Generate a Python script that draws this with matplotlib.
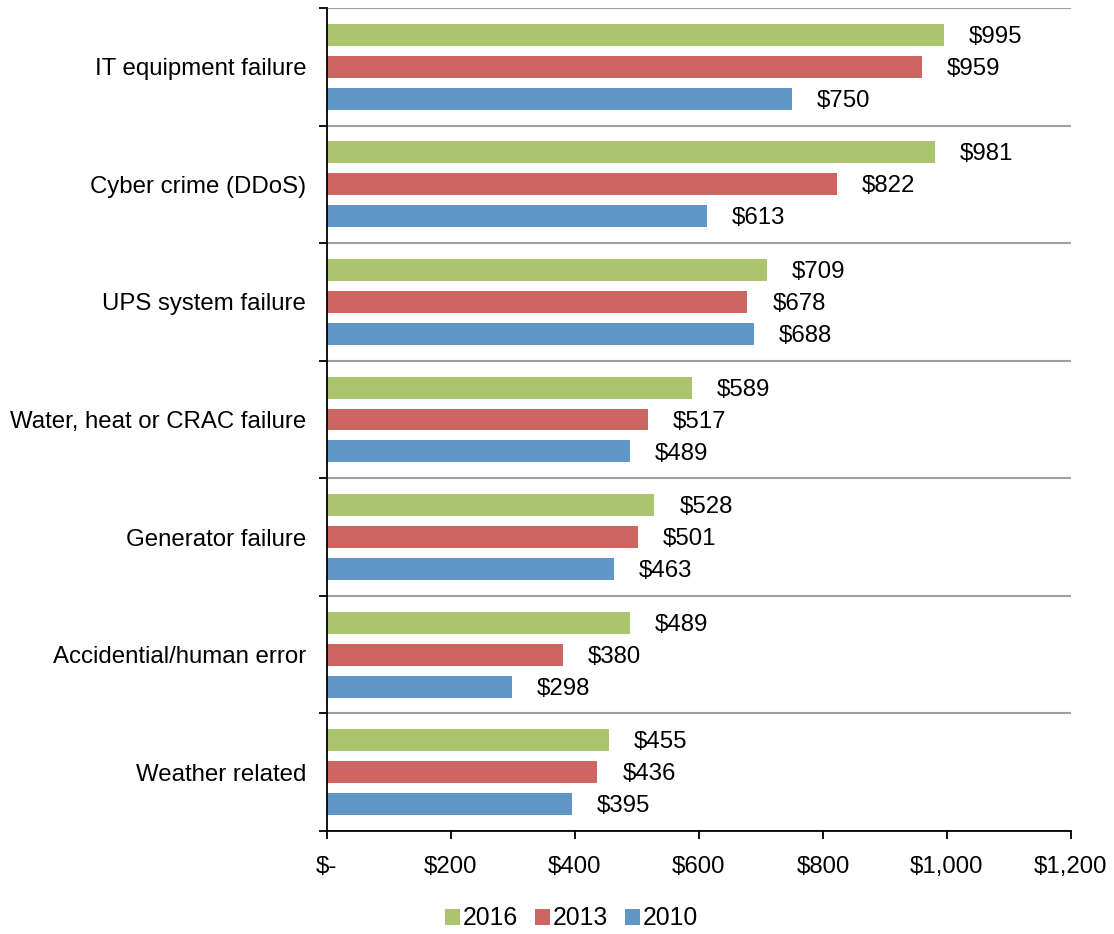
import numpy as np
import matplotlib
matplotlib.use("Agg")
import matplotlib.pyplot as plt

categories = ["IT equipment failure", "Cyber crime (DDoS)", "UPS system failure",
              "Water, heat or CRAC failure", "Generator failure",
              "Accidential/human error", "Weather related"]
cost_2016 = [995, 981, 709, 589, 528, 489, 455]
cost_2013 = [959, 822, 678, 517, 501, 380, 436]
cost_2010 = [750, 613, 688, 489, 463, 298, 395]
xtick_vals = [0, 200, 400, 600, 800, 1000, 1200]
xtick_labels = ["$-", "$200", "$400", "$600", "$800", "$1,000", "$1,200"]

plt.rcParams['font.family'] = ['Liberation Sans', 'DejaVu Sans']
fs = 17.3

fig = plt.figure(figsize=(11.14, 9.34), dpi=100)
ax = fig.add_axes([327 / 1114, 1 - 831 / 934, (1071 - 327) / 1114, (831 - 8) / 934])

y = np.arange(len(categories))
h = 0.187
off = 0.272
series = [("2016", cost_2016, "#abc56e", -off),
          ("2013", cost_2013, "#cd6660", 0),
          ("2010", cost_2010, "#6196c9", off)]

for name, vals, col, o in series:
    ax.barh(y + o, vals, height=h, color=col, label=name)
    for yi, v in zip(y, vals):
        ax.annotate("${}".format(v), (v, yi + o), xytext=(18, -1.5), textcoords="offset points",
                    va="center", ha="left", fontsize=fs)

ax.set_ylim(len(categories) - 0.5, -0.5)
ax.set_xlim(0, 1200)
ax.set_yticks(y)
ax.set_yticklabels(categories, fontsize=fs)
ax.set_yticks(np.arange(-0.5, len(categories), 1), minor=True)
ax.tick_params(axis="y", which="major", length=0, pad=15)
ax.tick_params(axis="y", which="minor", length=6, width=1.3, direction="out")
ax.set_xticks(xtick_vals)
ax.set_xticklabels(xtick_labels, fontsize=fs)
ax.tick_params(axis="x", length=6, width=1.3, direction="out", pad=12)

ax.grid(axis="y", which="minor", color="#a0a0a0", linewidth=1.5)
ax.set_axisbelow(True)
for s in ["top", "right"]:
    ax.spines[s].set_visible(False)
ax.spines["left"].set_linewidth(1.3)
ax.spines["bottom"].set_linewidth(1.3)

fig.legend(loc="lower center", bbox_to_anchor=(0.513, -0.02), ncol=3, frameon=False,
           fontsize=17.8, handlelength=0.6, handleheight=0.6, handletextpad=0.1,
           columnspacing=0.7)

fig.savefig("out.png", dpi=100)
